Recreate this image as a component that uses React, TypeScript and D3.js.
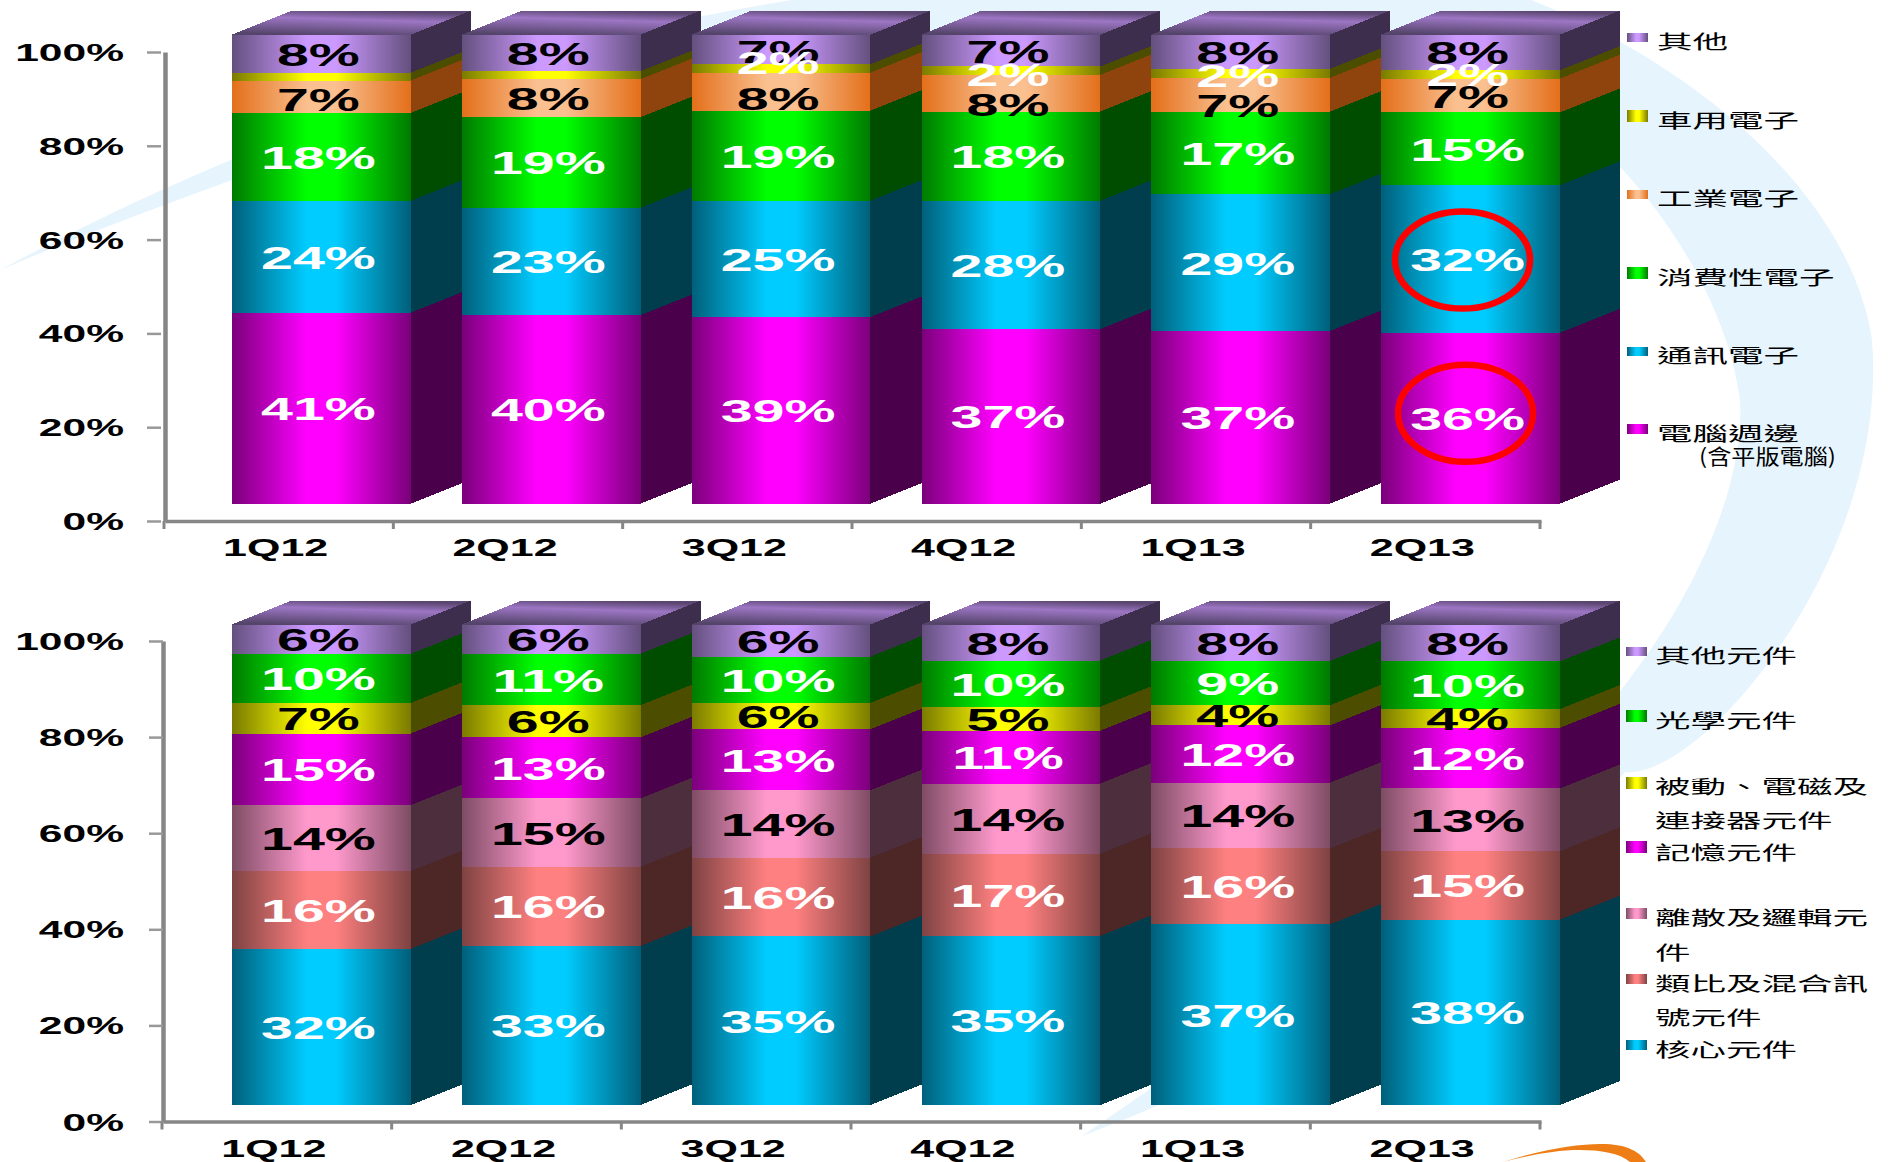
import { useEffect, useRef } from 'react';
import * as d3 from 'd3';

const categories = ['1Q12', '2Q12', '3Q12', '4Q12', '1Q13', '2Q13'];
const axisTicks = [0, 20, 40, 60, 80, 100];

// Application mix (upper chart), bottom of the stack first
const pcValues = [40.7, 40.2, 39.8, 37.2, 36.8, 36.4];
const pcLabels = [41, 40, 39, 37, 37, 36];
const commValues = [23.9, 22.9, 24.8, 27.4, 29.2, 31.5];
const commLabels = [24, 23, 25, 28, 29, 32];
const consumerValues = [18.7, 19.3, 19.2, 19.0, 17.6, 15.5];
const consumerLabels = [18, 19, 19, 18, 17, 15];
const industrialValues = [6.9, 8.1, 8.1, 7.8, 7.2, 7.2];
const industrialLabels = [7, 8, 8, 8, 7, 7];
const autoValues = [1.7, 1.7, 1.8, 1.8, 1.9, 1.8];
const autoLabels = [null, null, 2, 2, 2, 2];
const otherValues = [8.1, 7.8, 6.3, 6.8, 7.3, 7.6];
const otherLabels = [8, 8, 7, 7, 8, 8];

// Component mix (lower chart), bottom of the stack first
const coreValues = [32.5, 33.1, 35.1, 35.2, 37.6, 38.6];
const coreLabels = [32, 33, 35, 35, 37, 38];
const analogValues = [16.2, 16.5, 16.4, 17.1, 15.8, 14.2];
const analogLabels = [16, 16, 16, 17, 16, 15];
const discreteValues = [13.7, 14.2, 14.0, 14.6, 13.7, 13.1];
const discreteLabels = [14, 15, 14, 14, 14, 13];
const memoryValues = [14.9, 12.7, 12.7, 11.0, 11.9, 12.6];
const memoryLabels = [15, 13, 13, 11, 12, 12];
const passiveValues = [6.4, 6.7, 5.5, 5.0, 4.2, 3.9];
const passiveLabels = [7, 6, 6, 5, 4, 4];
const opticalValues = [10.2, 10.7, 9.6, 9.6, 9.2, 9.9];
const opticalLabels = [10, 11, 10, 10, 9, 10];
const otherPartValues = [6.1, 6.1, 6.7, 7.5, 7.6, 7.7];
const otherPartLabels = [6, 6, 6, 8, 8, 8];

const shades: Record<string, { edge: string; mid: string; side: string }> = {
  magenta: { edge: '#7a007a', mid: '#ff00ff', side: '#4b004b' },
  cyan: { edge: '#005f7a', mid: '#00ccff', side: '#003d4d' },
  green: { edge: '#007a00', mid: '#00ff00', side: '#004d00' },
  orange: { edge: '#e36f1a', mid: '#fac090', side: '#8f440d' },
  yellow: { edge: '#7a7a00', mid: '#ffff00', side: '#4d4d00' },
  purple: { edge: '#64507e', mid: '#cc99ff', side: '#3d2e4e' },
  salmon: { edge: '#7e4242', mid: '#ff8080', side: '#4d2626' },
  pink: { edge: '#7e4c64', mid: '#ff99cc', side: '#4d2e3d' },
};

const WHITE = '#fff';
const BLACK = '#000';

const topSeries = [
  { key: 'pc', values: pcValues, labels: pcLabels, shade: 'magenta', text: WHITE },
  { key: 'comm', values: commValues, labels: commLabels, shade: 'cyan', text: WHITE },
  { key: 'consumer', values: consumerValues, labels: consumerLabels, shade: 'green', text: WHITE },
  { key: 'industrial', values: industrialValues, labels: industrialLabels, shade: 'orange', text: BLACK },
  { key: 'auto', values: autoValues, labels: autoLabels, shade: 'yellow', text: WHITE },
  { key: 'other', values: otherValues, labels: otherLabels, shade: 'purple', text: BLACK },
];

const bottomSeries = [
  { key: 'core', values: coreValues, labels: coreLabels, shade: 'cyan', text: WHITE },
  { key: 'analog', values: analogValues, labels: analogLabels, shade: 'salmon', text: WHITE },
  { key: 'discrete', values: discreteValues, labels: discreteLabels, shade: 'pink', text: BLACK },
  { key: 'memory', values: memoryValues, labels: memoryLabels, shade: 'magenta', text: WHITE },
  { key: 'passive', values: passiveValues, labels: passiveLabels, shade: 'yellow', text: BLACK },
  { key: 'optical', values: opticalValues, labels: opticalLabels, shade: 'green', text: WHITE },
  { key: 'otherPart', values: otherPartValues, labels: otherPartLabels, shade: 'purple', text: BLACK },
];

// The small labels in the upper chart were moved by hand in the original
const labelNudge: Record<string, number> = {
  'industrial|1Q12': 2,
  'industrial|3Q12': 6,
  'industrial|4Q12': 11,
  'industrial|1Q13': 10,
  'auto|3Q12': -6,
  'auto|4Q12': 3,
  'auto|1Q13': 2,
  'other|3Q12': 2,
};

const topLegend = [
  { shade: 'purple', y: 33, h: 9, lines: [{ text: '其他', y: 49 }] },
  { shade: 'yellow', y: 110, h: 12, lines: [{ text: '車用電子', y: 128 }] },
  { shade: 'orange', y: 190, h: 9, lines: [{ text: '工業電子', y: 206 }] },
  { shade: 'green', y: 267, h: 12, lines: [{ text: '消費性電子', y: 285 }] },
  { shade: 'cyan', y: 347, h: 9, lines: [{ text: '通訊電子', y: 363 }] },
  { shade: 'magenta', y: 424, h: 10, lines: [{ text: '電腦週邊', y: 441 }] },
];

const bottomLegend = [
  { shade: 'purple', y: 647, h: 9, lines: [{ text: '其他元件', y: 663 }] },
  { shade: 'green', y: 710, h: 12, lines: [{ text: '光學元件', y: 728 }] },
  { shade: 'yellow', y: 777, h: 12, lines: [{ text: '被動、電磁及', y: 794 }, { text: '連接器元件', y: 828 }] },
  { shade: 'magenta', y: 841, h: 12, lines: [{ text: '記憶元件', y: 860 }] },
  { shade: 'pink', y: 908, h: 11, lines: [{ text: '離散及邏輯元', y: 925 }, { text: '件', y: 960 }] },
  { shade: 'salmon', y: 974, h: 10, lines: [{ text: '類比及混合訊', y: 991 }, { text: '號元件', y: 1025 }] },
  { shade: 'cyan', y: 1040, h: 10, lines: [{ text: '核心元件', y: 1057 }] },
];

const LATIN = '"Liberation Sans", Arial, sans-serif';
const CJK = '"Noto Sans CJK TC", sans-serif';
const DEPTH_X = 60;
const DEPTH_Y = 24;
const AXIS_COLOR = '#868686';

type Series = typeof topSeries[number] | typeof bottomSeries[number];

function drawChart(
  svg: d3.Selection<SVGSVGElement, unknown, null, undefined>,
  series: Series[],
  opts: { axisTop: number; axisBottom: number; lift: number; axisX: number; axisEnd: number; tickGap: number; catY: number }
) {
  const { axisTop, axisBottom, lift, axisX, axisEnd, tickGap, catY } = opts;
  const root = svg.append('g');

  const y = d3.scaleLinear().domain([0, 100]).range([axisBottom, axisTop]);
  const x = d3.scaleBand<string>().domain(categories).range([232, 1560]).paddingInner(0.222);
  const xAxis = d3.scaleBand<string>().domain(categories).range([axisX, axisEnd]);

  const rows = categories.map((category, i) => {
    const row: Record<string, number | string> = { category };
    series.forEach((s) => (row[s.key] = s.values[i]));
    return row;
  });
  const stacked = d3.stack<Record<string, number | string>>().keys(series.map((s) => s.key))(rows as any);

  // Axes first, the bars stand in front of them
  const left = root
    .append('g')
    .attr('transform', `translate(${axisX},0)`)
    .call(d3.axisLeft(y).tickValues(axisTicks).tickSize(0).tickFormat((d) => `${d}%`));
  left.select('.domain').attr('stroke', AXIS_COLOR).attr('stroke-width', 4.5);
  left
    .selectAll<SVGTextElement, number>('text')
    .attr('x', 0)
    .attr('dy', null)
    .attr('y', 0)
    .attr('transform', `translate(${124 - axisX},8.5) scale(1.85,1)`)
    .attr('font-family', LATIN)
    .attr('font-size', 23)
    .attr('font-weight', 700)
    .attr('fill', '#000');
  left
    .selectAll('.tick')
    .append('line')
    .attr('x1', tickGap - 14)
    .attr('x2', tickGap)
    .attr('stroke', '#999')
    .attr('stroke-width', 2.5);

  const bottom = root
    .append('g')
    .attr('transform', `translate(0,${axisBottom})`)
    .call(d3.axisBottom(xAxis).tickSize(0));
  bottom.select('.domain').attr('stroke', AXIS_COLOR).attr('stroke-width', 3.5);
  bottom
    .selectAll<SVGTextElement, string>('text')
    .attr('x', 0)
    .attr('y', 0)
    .attr('dy', null)
    .attr('transform', `translate(-4,${catY - axisBottom}) scale(1.87,1)`)
    .attr('font-family', LATIN)
    .attr('font-size', 23)
    .attr('font-weight', 700)
    .attr('fill', '#000');

  bottom
    .selectAll('.edge')
    .data(d3.range(categories.length + 1))
    .enter()
    .append('line')
    .attr('x1', (i) => axisX + i * xAxis.step() - 1)
    .attr('x2', (i) => axisX + i * xAxis.step() - 1)
    .attr('y1', 0)
    .attr('y2', 8)
    .attr('stroke', AXIS_COLOR)
    .attr('stroke-width', 3);

  const bw = x.bandwidth();
  const by = (v: number) => y(v) - lift;

  // Left to right, so each bar hides the side wall of the one before it
  categories.forEach((category, i) => {
    const g = root.append('g').attr('shape-rendering', 'crispEdges');
    const x0 = x(category)!;
    const x1 = x0 + bw;

    stacked.forEach((layer, j) => {
      const [v0, v1] = layer[i];
      const shade = shades[series[j].shade];
      g.append('polygon')
        .attr(
          'points',
          [
            [x1, by(v0)],
            [x1 + DEPTH_X, by(v0) - DEPTH_Y],
            [x1 + DEPTH_X, by(v1) - DEPTH_Y],
            [x1, by(v1)],
          ].join(' ')
        )
        .attr('fill', shade.side);
    });

    const topY = by(d3.max(stacked, (layer) => layer[i][1])!);
    g.append('polygon')
      .attr(
        'points',
        [
          [x0, topY],
          [x0 + DEPTH_X, topY - DEPTH_Y],
          [x1 + DEPTH_X, topY - DEPTH_Y],
          [x1, topY],
        ].join(' ')
      )
      .attr('fill', 'url(#roof)');

    stacked.forEach((layer, j) => {
      const [v0, v1] = layer[i];
      g.append('rect')
        .attr('x', x0)
        .attr('y', by(v1))
        .attr('width', bw)
        .attr('height', by(v0) - by(v1))
        .attr('fill', `url(#grad-${series[j].shade})`);
    });
  });

  // Black labels go under the white ones where they collide
  const labels = stacked
    .flatMap((layer, j) =>
      categories.map((category, i) => ({
        category,
        s: series[j],
        label: series[j].labels[i],
        mid: (layer[i][0] + layer[i][1]) / 2,
      }))
    )
    .filter((d) => d.label !== null)
    .sort((a, b) => (a.s.text === b.s.text ? 0 : a.s.text === BLACK ? -1 : 1));

  root
    .selectAll('.value')
    .data(labels)
    .enter()
    .append('text')
    .attr('class', 'value')
    .attr('transform', (d) => {
      const nudge = labelNudge[`${d.s.key}|${d.category}`] ?? 0;
      return `translate(${x(d.category)! + bw / 2 - 3},${by(d.mid) + 12 + nudge}) scale(1.85,1)`;
    })
    .attr('text-anchor', 'middle')
    .attr('font-family', LATIN)
    .attr('font-size', 31)
    .attr('font-weight', 700)
    .attr('fill', (d) => d.s.text)
    .text((d) => `${d.label}%`);

  return { x, by };
}

function drawLegend(
  svg: d3.Selection<SVGSVGElement, unknown, null, undefined>,
  items: typeof topLegend | typeof bottomLegend,
  swatchX: number,
  textX: number
) {
  const g = svg.append('g');
  items.forEach((item) => {
    g.append('rect')
      .attr('x', swatchX)
      .attr('y', item.y)
      .attr('width', 21)
      .attr('height', item.h)
      .attr('fill', `url(#grad-${item.shade})`);
    item.lines.forEach((line) => {
      g.append('text')
        .attr('transform', `translate(${textX},${line.y}) scale(1.87,1)`)
        .attr('font-family', CJK)
        .attr('font-size', 19)
        .attr('fill', '#000')
        .text(line.text);
    });
  });
  return g;
}

export default function App() {
  const svgRef = useRef<SVGSVGElement>(null);

  useEffect(() => {
    const svg = d3.select(svgRef.current!);
    svg.selectAll('*').remove();

    const defs = svg.append('defs');
    Object.entries(shades).forEach(([name, c]) => {
      const grad = defs.append('linearGradient').attr('id', `grad-${name}`);
      grad.append('stop').attr('offset', '0').attr('stop-color', c.edge);
      grad.append('stop').attr('offset', '0.42').attr('stop-color', c.mid);
      grad.append('stop').attr('offset', '0.58').attr('stop-color', c.mid);
      grad.append('stop').attr('offset', '1').attr('stop-color', c.edge);
    });
    const roof = defs
      .append('linearGradient')
      .attr('id', 'roof')
      .attr('x1', 0.25)
      .attr('y1', 1)
      .attr('x2', 0.55)
      .attr('y2', 0);
    roof.append('stop').attr('offset', '0').attr('stop-color', '#54446a');
    roof.append('stop').attr('offset', '0.65').attr('stop-color', '#9d76c4');
    roof.append('stop').attr('offset', '1').attr('stop-color', '#5a4670');

    // Pale backdrop swoosh and the orange logo stroke in the corner
    svg
      .append('path')
      .attr(
        'd',
        'M0,270 C280,120 560,30 860,-10 L1504,-10 C1680,50 1850,190 1872,340 C1890,560 1700,780 1625,772 ' +
          'C1480,960 1280,1060 1082,1136 C1280,1000 1500,850 1621,690 C1700,590 1745,480 1740,400 ' +
          'C1730,320 1680,230 1620,167 C1400,60 700,60 232,180 C150,210 70,240 0,270 Z'
      )
      .attr('fill', '#e6f4fd');
    svg
      .append('path')
      .attr('d', 'M1503,1162 C1545,1148 1585,1143 1606,1144 C1628,1145 1640,1152 1646,1162 L1630,1162 C1620,1153 1600,1150 1580,1150 C1555,1150 1530,1155 1503,1162 Z')
      .attr('fill', '#ed7d14');

    const top = drawChart(svg, topSeries, {
      axisTop: 52,
      axisBottom: 521,
      lift: 17.4,
      axisX: 165,
      axisEnd: 1541,
      tickGap: -4,
      catY: 556,
    });
    drawChart(svg, bottomSeries, {
      axisTop: 641,
      axisBottom: 1121.5,
      lift: 16.5,
      axisX: 163,
      axisEnd: 1541,
      tickGap: 0,
      catY: 1157,
    });

    drawLegend(svg, topLegend, 1627, 1657)
      .append('text')
      .attr('transform', 'translate(1699,464) scale(1.15,1)')
      .attr('font-family', CJK)
      .attr('font-size', 21)
      .attr('fill', '#000')
      .text('(含平版電腦)');
    drawLegend(svg, bottomLegend, 1626, 1655);

    // Red rings around the two 2Q13 values the original calls out
    const ringX = top.x('2Q13')! + top.x.bandwidth() / 2 - 8;
    const ringPc = pcValues[5] / 2;
    const ringComm = pcValues[5] + commValues[5] / 2;
    svg
      .selectAll('.ring')
      .data([
        { cx: ringX, cy: top.by(ringComm) + 1 },
        { cx: ringX + 3, cy: top.by(ringPc) - 5 },
      ])
      .enter()
      .append('ellipse')
      .attr('class', 'ring')
      .attr('cx', (d) => d.cx)
      .attr('cy', (d) => d.cy)
      .attr('rx', 67.5)
      .attr('ry', 48.5)
      .attr('fill', 'none')
      .attr('stroke', '#ff0000')
      .attr('stroke-width', 6.5);
  }, []);

  return (
    <svg
      ref={svgRef}
      width={1888}
      height={1162}
      style={{ position: 'absolute', left: 0, top: 0, display: 'block', background: '#fff' }}
    />
  );
}
